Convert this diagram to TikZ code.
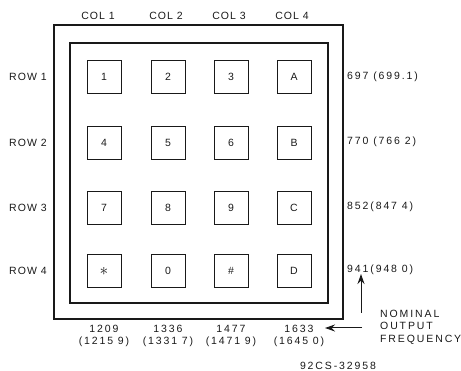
\documentclass[tikz,border=0pt]{standalone}
\usepackage{fontspec}
\newfontfamily\lbl[LetterSpace=10]{Liberation Sans}
\newfontfamily\numf[LetterSpace=18]{Liberation Sans}
\usetikzlibrary{arrows.meta}
\begin{document}
\begin{tikzpicture}[x=1pt,y=-1pt,
  every node/.style={font=\lbl\fontsize{10.5}{12.5}\selectfont, text=black!90, inner sep=0pt},
  num/.style={font=\numf\fontsize{10.5}{12.5}\selectfont},
  frame/.style={draw=black!90, line width=1.1pt},
  key/.style={draw=black!90, line width=1pt, minimum width=34pt, minimum height=33pt},
  arr/.style={draw=black!90, line width=1pt, -{Stealth[length=10pt,width=7pt]}}]
\useasboundingbox (0,0) rectangle (461,371);
\draw[frame] (54,25) rectangle (343,319);
\draw[frame] (70,43) rectangle (328,303);
% column labels
\node (c1) at (98,16) {COL 1};
\node (c2) at (166,16) {COL 2};
\node (c3) at (229,16) {COL 3};
\node (c4) at (292,16) {COL 4};
% row labels
\node[anchor=west] (r1) at (9,77) {ROW 1};
\node[anchor=west] (r2) at (9,143) {ROW 2};
\node[anchor=west] (r3) at (9,208) {ROW 3};
\node[anchor=west] (r4) at (9,271) {ROW 4};
% keys
\node[key] (k1) at (104,77) {1};
\node[key] (k2) at (168,77) {2};
\node[key] (k3) at (231,77) {3};
\node[key] (kA) at (294,77) {A};
\node[key] (k4) at (104,143) {4};
\node[key] (k5) at (168,143) {5};
\node[key] (k6) at (231,143) {6};
\node[key] (kB) at (294,143) {B};
\node[key] (k7) at (104,208) {7};
\node[key] (k8) at (168,208) {8};
\node[key] (k9) at (231,208) {9};
\node[key] (kC) at (294,208) {C};
\node[key] (ks) at (104,271) {\fontsize{16}{16}\selectfont$\ast$};
\node[key] (k0) at (168,271) {0};
\node[key] (kh) at (231,271) {\#};
\node[key] (kD) at (294,271) {D};
% row frequencies
\node[num, anchor=west] (f1) at (347,77) {697 (699.1)};
\node[num, anchor=west] (f2) at (347,142) {770 (766 2)};
\node[num, anchor=west] (f3) at (347,207) {852(847 4)};
\node[num, anchor=west] (f4) at (347,270) {941(948 0)};
% column frequencies
\node[num, align=center] (g1) at (104,336) {1209\\(1215 9)};
\node[num, align=center] (g2) at (168,336) {1336\\(1331 7)};
\node[num, align=center] (g3) at (231,336) {1477\\(1471 9)};
\node[num, align=center] (g4) at (299,336) {1633\\(1645 0)};
% legend
\node[num, align=left, anchor=west] (nom) at (380,327) {NOMINAL\\OUTPUT\\FREQUENCY};
\coordinate (upstart) at (361,313);
\coordinate (upend) at (361,274);
\coordinate (lfstart) at (362,328);
\coordinate (lfend) at (325,328);
\draw[arr] (upstart) -- (upend);
\draw[arr] (lfstart) -- (lfend);
\node[num] (id) at (338,366) {92CS-32958};
\end{tikzpicture}
\end{document}
